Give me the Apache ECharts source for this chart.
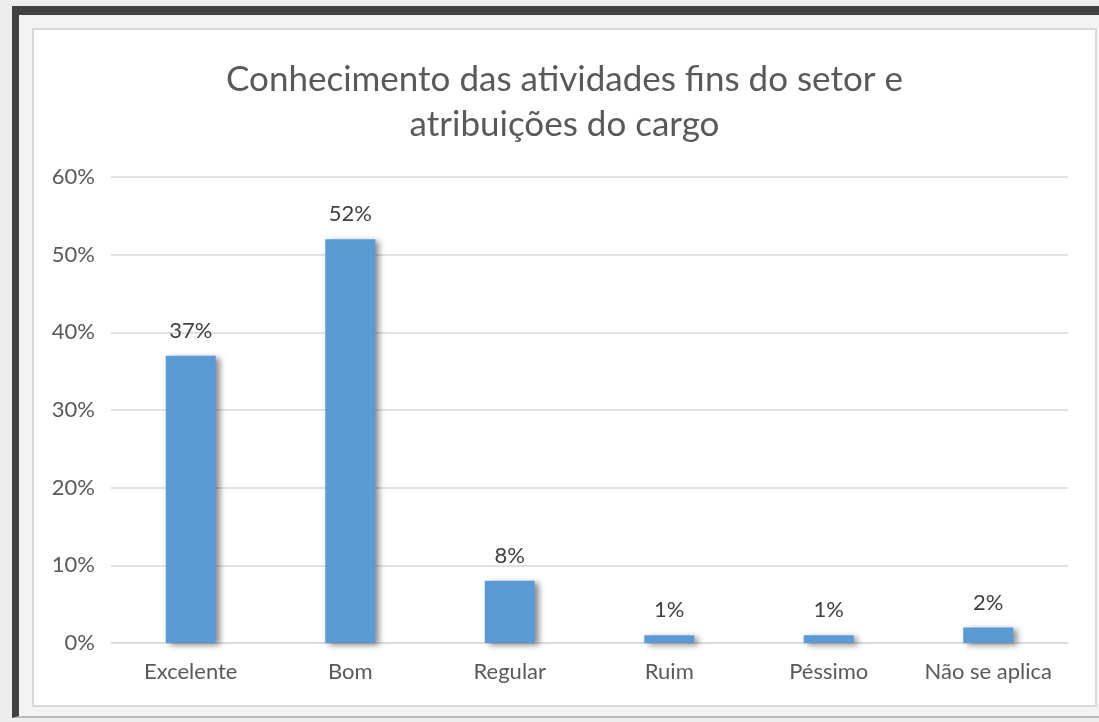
<!DOCTYPE html>
<html>
<head>
<meta charset="utf-8">
<script src="https://cdn.jsdelivr.net/npm/echarts@6/dist/echarts.min.js"></script>
<style>
    html, body {
        margin: 0;
        padding: 0;
        width: 1099px;
        height: 722px;
        overflow: hidden;
        background: #ededed;
    }
    .frame {
        position: absolute;
        left: 12px;
        top: 6px;
        width: 1100px;
        height: 712px;
        box-sizing: border-box;
        border-top: 9px solid #414141;
        border-left: 7px solid #414141;
        border-bottom: 2px solid #b9b9b9;
        background: #f3f3f3;
    }
    #chart {
        position: absolute;
        left: 34px;
        top: 30px;
        width: 1061px;
        height: 675px;
        background: #ffffff;
        outline: 2px solid #d9d9d9;
    }
</style>
</head>
<body>
<div class="frame"></div>
<div id="chart"></div>
<script>
// dados
const categories = ['Excelente', 'Bom', 'Regular', 'Ruim', 'Péssimo', 'Não se aplica'];
const percentValues = [37, 52, 8, 1, 1, 2];
const yMin = 0;
const yMax = 60;
const yStep = 10;

const chart = echarts.init(document.getElementById('chart'));

const option = {
    animation: false,
    textStyle: {
        fontFamily: 'Lato, "Open Sans", sans-serif'
    },
    title: {
        text: 'Conhecimento das atividades fins do setor e\natribuições do cargo',
        left: 'center',
        top: 22,
        textStyle: {
            fontSize: 35,
            lineHeight: 45,
            fontWeight: 'normal',
            color: '#595959',
            fontFamily: 'Lato, "Open Sans", sans-serif'
        }
    },
    grid: {
        left: 77,
        right: 27,
        top: 147,
        bottom: 62,
        containLabel: false
    },
    xAxis: {
        type: 'category',
        data: categories,
        axisLine: {
            lineStyle: {
                color: '#d9d9d9',
                width: 1.5
            }
        },
        axisTick: { show: false },
        axisLabel: {
            interval: 0,
            color: '#595959',
            fontSize: 22,
            margin: 18
        }
    },
    yAxis: {
        type: 'value',
        min: yMin,
        max: yMax,
        interval: yStep,
        axisLine: { show: false },
        axisTick: { show: false },
        axisLabel: {
            color: '#595959',
            fontSize: 22,
            margin: 16,
            formatter: '{value}%'
        },
        splitLine: {
            lineStyle: {
                color: '#d9d9d9',
                width: 1.5
            }
        }
    },
    series: [
        {
            type: 'bar',
            data: percentValues,
            barWidth: 50,
            itemStyle: {
                color: '#5b9bd5',
                shadowColor: 'rgba(0, 0, 0, 0.45)',
                shadowBlur: 6,
                shadowOffsetX: 4,
                shadowOffsetY: 2
            },
            label: {
                show: true,
                position: 'top',
                distance: 14,
                color: '#404040',
                fontSize: 22,
                formatter: '{c}%'
            }
        }
    ]
};

option && chart.setOption(option);
</script>
</body>
</html>
